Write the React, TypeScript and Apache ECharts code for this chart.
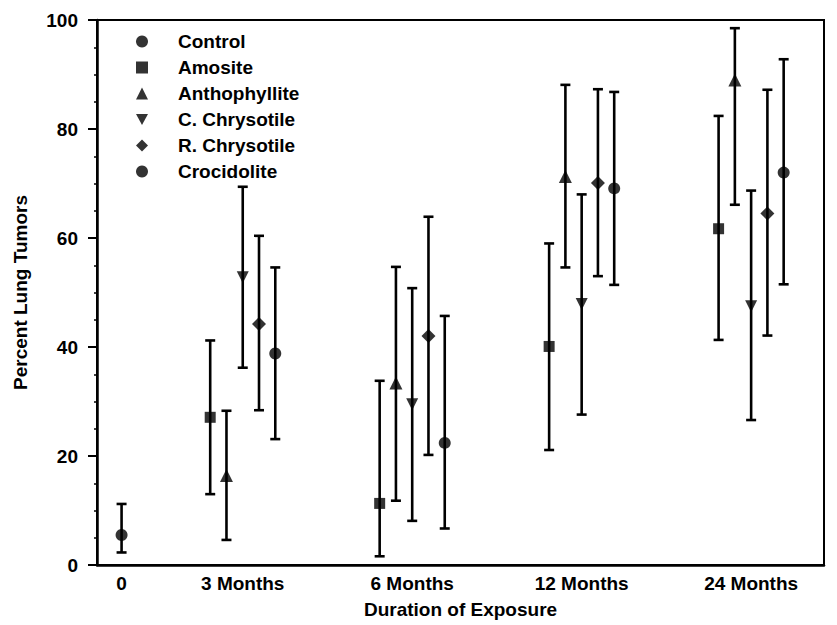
import React, { useEffect, useRef } from "react";
import * as echarts from "echarts";

const categories = ["0", "3 Months", "6 Months", "12 Months", "24 Months"];
const categoryX = [0.285, 1, 2, 3, 4];

const seriesNames = ["Control", "Amosite", "Anthophyllite", "C. Chrysotile", "R. Chrysotile", "Crocidolite"];
const downTriangle = "path://M0,0 L10,0 L5,9 Z";
const seriesSymbols = ["circle", "rect", "triangle", downTriangle, "diamond", "circle"];
const seriesSizes = [12, 11, 13, 12, 14, 12];
const seriesOffsets = [0, -0.192, -0.096, 0, 0.096, 0.192];

// Control only at time 0
const controlMean = [5.5];
const controlLow = [2.3];
const controlHigh = [11.2];

// 3, 6, 12, 24 months
const amositeMean = [27.1, 11.3, 40.1, 61.7];
const amositeLow = [13.0, 1.6, 21.1, 41.3];
const amositeHigh = [41.2, 33.8, 59.0, 82.4];

const anthophylliteMean = [16.4, 33.4, 71.3, 89.0];
const anthophylliteLow = [4.6, 11.8, 54.6, 66.1];
const anthophylliteHigh = [28.3, 54.7, 88.1, 98.5];

const cChrysotileMean = [52.8, 29.5, 47.9, 47.5];
const cChrysotileLow = [36.2, 8.1, 27.6, 26.6];
const cChrysotileHigh = [69.4, 50.8, 68.0, 68.7];

const rChrysotileMean = [44.2, 42.0, 70.1, 64.5];
const rChrysotileLow = [28.4, 20.2, 53.0, 42.1];
const rChrysotileHigh = [60.4, 63.9, 87.3, 87.2];

const crocidoliteMean = [38.8, 22.4, 69.1, 72.0];
const crocidoliteLow = [23.1, 6.7, 51.4, 51.5];
const crocidoliteHigh = [54.6, 45.7, 86.8, 92.8];

const yTicks = [0, 20, 40, 60, 80, 100];

const FONT = "'Liberation Sans', Arial, sans-serif";

export default function App() {
  const ref = useRef<HTMLDivElement>(null);
  useEffect(() => {
    if (!ref.current) return;
    const chart = echarts.init(ref.current, undefined, { renderer: "svg" });

    const groups = [
      { mean: controlMean, low: controlLow, high: controlHigh, cats: [0] },
      { mean: amositeMean, low: amositeLow, high: amositeHigh, cats: [1, 2, 3, 4] },
      { mean: anthophylliteMean, low: anthophylliteLow, high: anthophylliteHigh, cats: [1, 2, 3, 4] },
      { mean: cChrysotileMean, low: cChrysotileLow, high: cChrysotileHigh, cats: [1, 2, 3, 4] },
      { mean: rChrysotileMean, low: rChrysotileLow, high: rChrysotileHigh, cats: [1, 2, 3, 4] },
      { mean: crocidoliteMean, low: crocidoliteLow, high: crocidoliteHigh, cats: [1, 2, 3, 4] },
    ];

    const series: any[] = [];
    groups.forEach((g, si) => {
      const xs = g.cats.map((c) => categoryX[c] + seriesOffsets[si]);
      series.push({
        type: "custom",
        name: seriesNames[si] + " error",
        data: xs.map((x, i) => [x, g.low[i], g.high[i]]),
        encode: { x: 0, y: [1, 2] },
        z: 2,
        renderItem: (params: any, api: any) => {
          const x = api.value(0);
          const lo = api.coord([x, api.value(1)]);
          const hi = api.coord([x, api.value(2)]);
          const hw = 5;
          const st = { stroke: "#000", lineWidth: 2.6 };
          return {
            type: "group",
            children: [
              { type: "line", shape: { x1: lo[0], y1: lo[1], x2: hi[0], y2: hi[1] }, style: st },
              { type: "line", shape: { x1: lo[0] - hw, y1: lo[1], x2: lo[0] + hw, y2: lo[1] }, style: st },
              { type: "line", shape: { x1: hi[0] - hw, y1: hi[1], x2: hi[0] + hw, y2: hi[1] }, style: st },
            ],
          };
        },
      });
      series.push({
        type: "scatter",
        name: seriesNames[si],
        symbol: seriesSymbols[si],
        symbolSize: seriesSizes[si],
        itemStyle: { color: "#000" },
        z: 3,
        data: xs.map((x, i) => [x, g.mean[i]]),
      });
    });

    const textBase = { fontFamily: FONT, fontSize: 19, fontWeight: "bold", color: "#000" };

    chart.setOption({
      animation: false,
      backgroundColor: "#fff",
      textStyle: { fontFamily: FONT },
      grid: {
        left: 97,
        right: 13,
        top: 20,
        bottom: 60,
        show: true,
        borderColor: "#000",
        borderWidth: 2,
      },
      legend: {
        orient: "vertical",
        left: 131,
        top: 27,
        itemWidth: 12,
        itemHeight: 12,
        itemGap: 7,
        data: seriesNames.map((n, i) => ({ name: n, icon: seriesSymbols[i] })),
        textStyle: {
          ...textBase,
          lineHeight: 19,
          padding: [0, 0, 0, 25],
        },
        itemStyle: { color: "#000" },
        selectedMode: false,
      },
      xAxis: {
        type: "value",
        min: 0.14,
        max: 4.43,
        name: "Duration of Exposure",
        nameLocation: "middle",
        nameGap: 35,
        nameTextStyle: textBase,
        axisLine: { lineStyle: { color: "#000", width: 2.5 } },
        axisTick: { show: false },
        splitLine: { show: false },
        axisLabel: {
          customValues: categoryX,
          margin: 9,
          ...textBase,
          formatter: (v: number) => {
            let best = 0;
            categoryX.forEach((c, i) => {
              if (Math.abs(c - v) < Math.abs(categoryX[best] - v)) best = i;
            });
            return categories[best];
          },
        },
      },
      yAxis: {
        type: "value",
        min: yTicks[0],
        max: yTicks[yTicks.length - 1],
        interval: 20,
        name: "Percent Lung Tumors",
        nameLocation: "middle",
        nameGap: 67,
        nameTextStyle: textBase,
        axisLine: { lineStyle: { color: "#000", width: 2.5 } },
        axisTick: { show: true, length: 9, lineStyle: { color: "#000", width: 2 } },
        minorTick: { show: true, splitNumber: 4, length: 3, lineStyle: { color: "#000", width: 1.5 } },
        splitLine: { show: false },
        axisLabel: {
          margin: 19,
          ...textBase,
        },
      },
      series,
    });

    return () => chart.dispose();
  }, []);

  return (
    <div
      ref={ref}
      style={{ position: "absolute", left: 0, top: 0, width: 837, height: 625 }}
    />
  );
}
